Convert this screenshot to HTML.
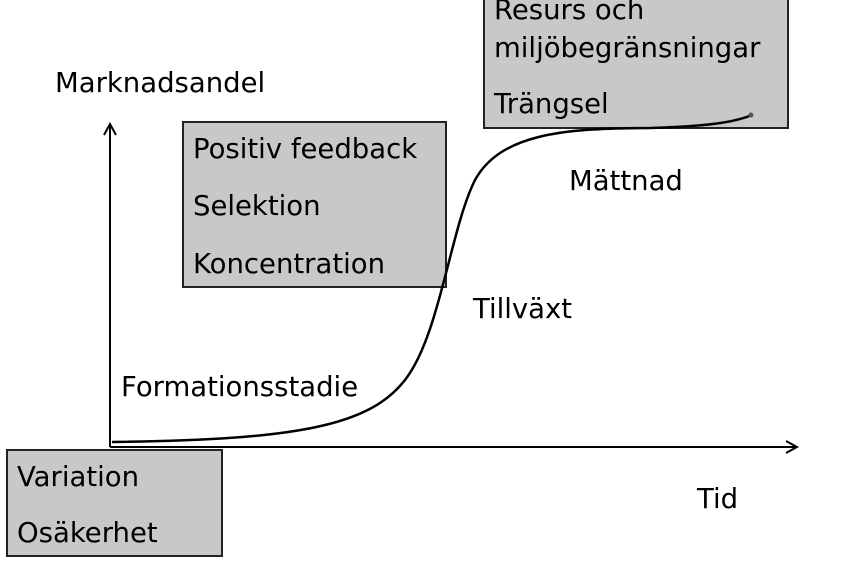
<!DOCTYPE html>
<html><head><meta charset="utf-8"><style>
html,body{margin:0;padding:0;background:#fff;width:848px;height:563px;overflow:hidden}
text{font-family:"DejaVu Sans","Liberation Sans",sans-serif;font-size:27.5px;fill:#000}
</style></head><body>
<svg width="848" height="563" viewBox="0 0 848 563" xmlns="http://www.w3.org/2000/svg">
<defs><marker id="a" markerWidth="14" markerHeight="14" refX="12" refY="7" orient="auto" markerUnits="userSpaceOnUse"><path d="M1,1 L12,7 L1,13" fill="none" stroke="#000" stroke-width="2"/></marker></defs>
<rect x="183" y="122" width="263" height="165" fill="#c8c8c8" stroke="#222" stroke-width="2"/>
<rect x="484" y="-5" width="304" height="133" fill="#c8c8c8" stroke="#222" stroke-width="2"/>
<rect x="7" y="450" width="215" height="106" fill="#c8c8c8" stroke="#222" stroke-width="2"/>
<line x1="110" y1="447" x2="110" y2="124" stroke="#000" stroke-width="2" marker-end="url(#a)"/>
<line x1="110" y1="447" x2="797" y2="447" stroke="#000" stroke-width="2" marker-end="url(#a)"/>
<path d="M112,442 C300,440 370,425 405,380 C440,335 450,230 475,180 C500,135 560,128 650,128 C720,126 740,120 752,115" fill="none" stroke="#000" stroke-width="2.5"/>
<circle cx="751" cy="115" r="2.5" fill="#555"/>
<text x="55" y="92">Marknadsandel</text>
<text x="193" y="158">Positiv feedback</text>
<text x="193" y="215">Selektion</text>
<text x="193" y="273">Koncentration</text>
<text x="494" y="19">Resurs och</text>
<text x="494" y="57">miljöbegränsningar</text>
<text x="494" y="113">Trängsel</text>
<text x="569" y="190">Mättnad</text>
<text x="473" y="318">Tillväxt</text>
<text x="121" y="396">Formationsstadie</text>
<text x="17" y="486">Variation</text>
<text x="17" y="542">Osäkerhet</text>
<text x="697" y="508">Tid</text>
</svg>
</body></html>
